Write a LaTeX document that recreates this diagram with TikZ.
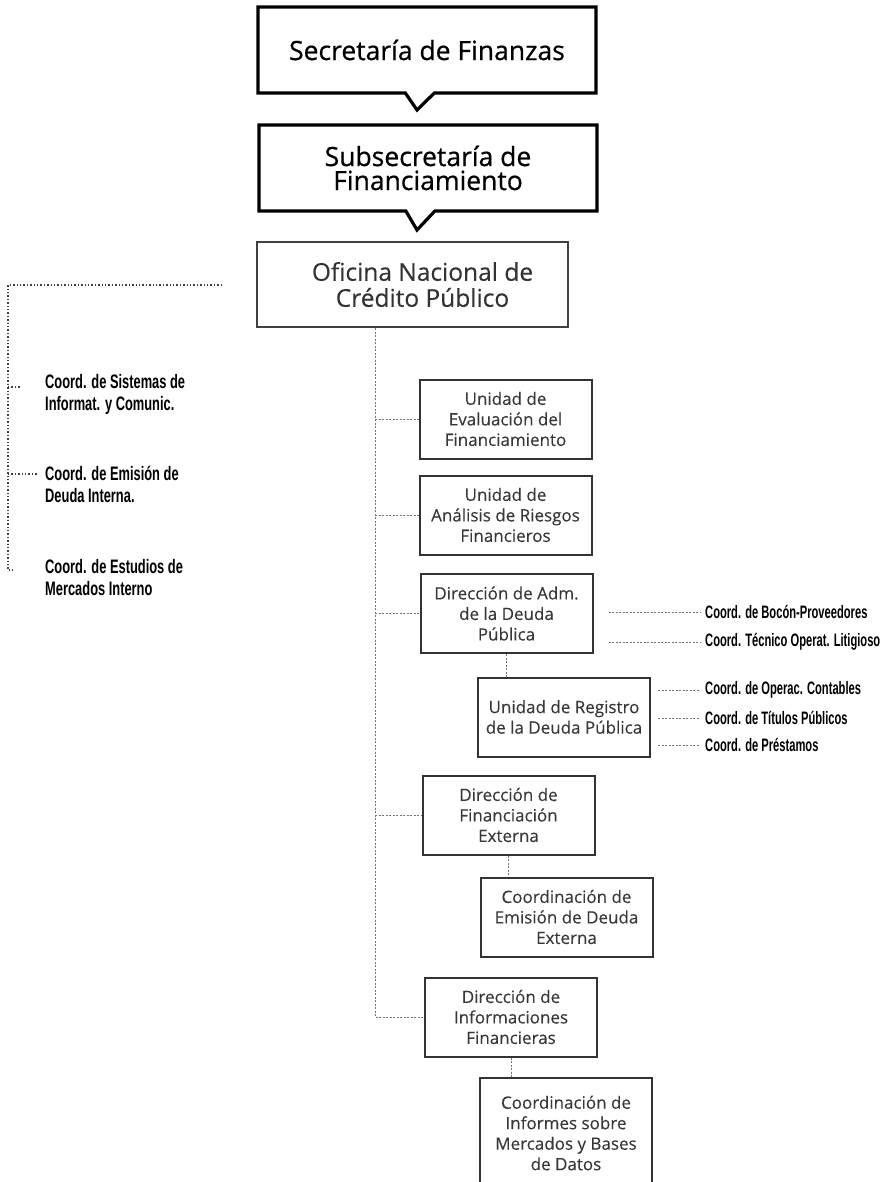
\documentclass[tikz,border=0pt]{standalone}
\usepackage{fontspec}
\setmainfont{Open Sans}
\newfontfamily\boxfont{Open Sans}[FakeBold=0.6]
\newfontfamily\unitfont{Open Sans}[FakeBold=0.25]
\newfontfamily\coordfont{Liberation Sans}[FakeStretch=0.66]
\newfontfamily\coordfontr{Liberation Sans}[FakeStretch=0.62]
\usetikzlibrary{shapes.callouts,calc}

\begin{document}
\begin{tikzpicture}[x=1pt,y=-1pt,
    hdbox/.style={rectangle callout, draw=black, line width=3.2pt, fill=white,
      minimum width=338pt, minimum height=86pt, callout pointer width=29pt,
      align=center, text=black, font=\boxfont\fontsize{26.5}{24}\selectfont},
    ofbox/.style={draw=black!75, line width=2.3pt, minimum width=311pt,
      minimum height=85pt, align=center, text=black!80,
      font=\unitfont\fontsize{24.5}{26}\selectfont},
    unitbox/.style={draw=black!80, line width=2pt, minimum width=172pt,
      minimum height=79pt, align=center, text=black!78,
      font=\unitfont\fontsize{17}{20.5}\selectfont},
    coordl/.style={anchor=west, align=left, inner sep=0pt,
      font=\coordfont\bfseries\fontsize{19.5}{22}\selectfont},
    coordr/.style={anchor=west, inner sep=0pt,
      font=\coordfontr\bfseries\fontsize{18}{18}\selectfont},
    link/.style={draw=black!55, line width=1pt, dash pattern=on 2pt off 1.5pt},
    lefttree/.style={draw=black!75, line width=1.4pt, dotted}]
    \useasboundingbox (0,0) rectangle (888,1182);

    % top of the hierarchy
    \node[hdbox, callout absolute pointer={(417,110)}] (sec) at (427,50) {Secretaría de Finanzas};
    \node[hdbox, callout absolute pointer={(417,230)}] (sub) at (428,168) {Subsecretaría de\\Financiamiento};
    \node[ofbox] (ofi) at (412.5,284.5) {\hspace*{20pt}Oficina Nacional de\\\hspace*{20pt}Crédito Público};

    % units under the office
    \node[unitbox] (eval) at (505.5,419) {Unidad de\\Evaluación del\\Financiamiento};
    \node[unitbox] (anal) at (505.5,515) {Unidad de\\Análisis de Riesgos\\Financieros};
    \node[unitbox] (dadm) at (506.5,613.5) {Dirección de Adm.\\de la Deuda\\Pública};
    \node[unitbox] (reg) at (564,717) {Unidad de Registro\\de la Deuda Pública};
    \node[unitbox] (dfin) at (508.5,815) {Dirección de\\Financiación\\Externa};
    \node[unitbox] (cemi) at (566.5,917) {Coordinación de\\Emisión de Deuda\\Externa};
    \node[unitbox] (dinf) at (511,1017) {Dirección de\\Informaciones\\Financieras};
    \node[unitbox, minimum height=110pt] (cinf) at (566,1133) {Coordinación de\\Informes sobre\\Mercados y Bases\\de Datos};

    % trunk and branches
    \coordinate (trunk) at (375,327);
    \draw[link] (ofi.south -| trunk) -- (trunk |- dinf.west) -- (dinf.west);
    \foreach \unit in {eval,anal,dadm,dfin}
      \draw[link] (trunk |- \unit.west) -- (\unit.west);
    \draw[link] (dadm.south) -- (dadm.south |- reg.north);
    \draw[link] (dfin.south) -- (dfin.south |- cemi.north);
    \draw[link] (dinf.south) -- (dinf.south |- cinf.north);

    % coordinations on the right
    \node[coordr] (boc) at (705,612) {Coord. de Bocón-Proveedores};
    \node[coordr] (tec) at (705,642) {Coord. Técnico Operat. Litigioso};
    \node[coordr] (ope) at (705,690) {Coord. de Operac. Contables};
    \node[coordr] (tit) at (705,718) {Coord. de Títulos Públicos};
    \node[coordr] (pre) at (705,745) {Coord. de Préstamos};
    \foreach \c in {boc,tec}
      \draw[link, shorten <=15pt, shorten >=4pt] (dadm.east |- \c.west) -- (\c.west);
    \foreach \c in {ope,tit,pre}
      \draw[link, shorten <=7pt, shorten >=5pt] (reg.east |- \c.west) -- (\c.west);

    % coordinations on the left
    \node[coordl] (sis) at (45,394) {Coord. de Sistemas de\\Informat. y Comunic.};
    \node[coordl] (emi) at (45,484) {Coord. de Emisión de\\Deuda Interna.};
    \node[coordl] (est) at (45,578) {Coord. de Estudios de\\Mercados Interno};
    \coordinate (lend) at (222,285);
    \coordinate (lcorner) at (8,285);
    \draw[lefttree] (lend) -- (lcorner) -- ($(lcorner |- est.west)+(0,-8)$) -- ++(5,0);
    \draw[lefttree] ($(lcorner |- sis.west)+(0,-7)$) -- ++(12,0);
    \draw[lefttree] ($(lcorner |- emi.west)+(0,-10)$) -- ++(29,0);
  \end{tikzpicture}
\end{document}
